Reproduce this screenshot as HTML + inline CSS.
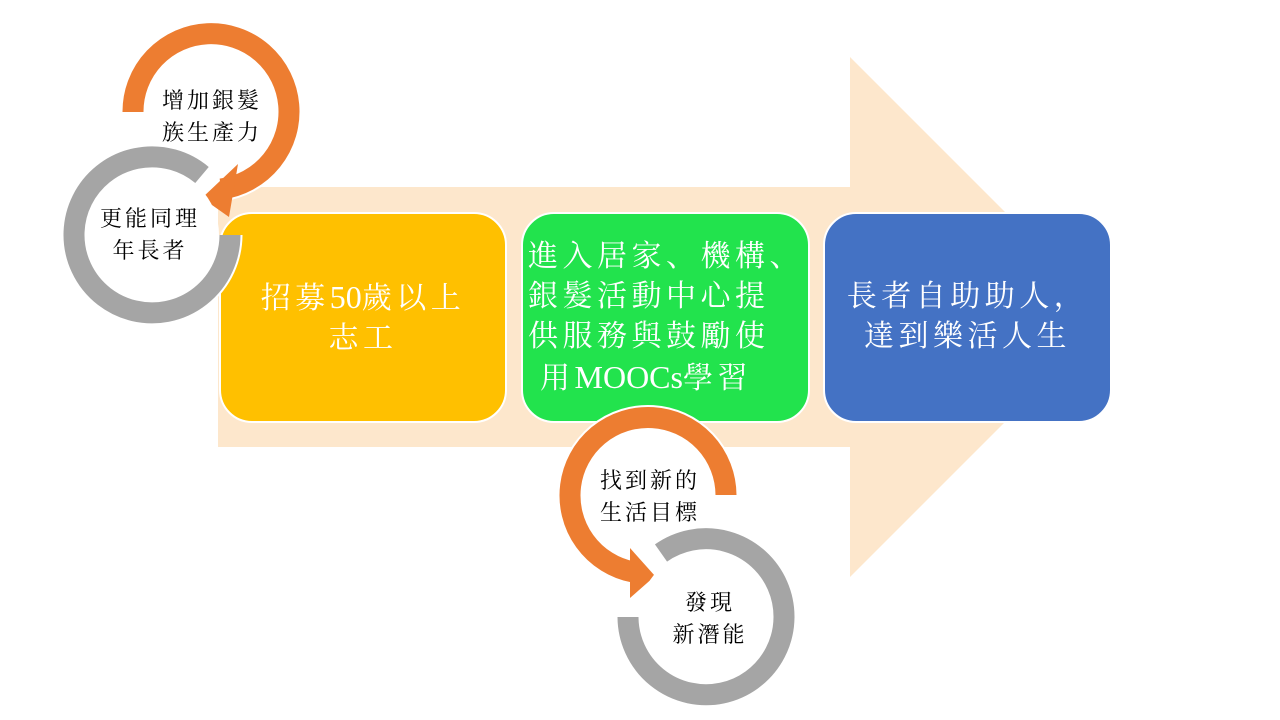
<!DOCTYPE html>
<html><head><meta charset="utf-8"><style>
body{margin:0;width:1280px;height:720px;background:#fff;overflow:hidden;position:relative;font-family:"Liberation Serif","Noto Serif CJK SC",serif;}
svg{position:absolute;left:0;top:0}
.t{position:absolute;white-space:nowrap;}
.box{color:#fff;font-size:30px;letter-spacing:4.5px;line-height:40px;}
.c{color:#000;font-size:22px;letter-spacing:3px;line-height:32px;text-align:center;}
.l{letter-spacing:0;font-size:32px;}
</style></head><body>
<svg width="1280" height="720">
<polygon points="218,187 850,187 850,57 1110,317 850,577 850,447 218,447" fill="#fde7cc"/>
<rect x="220" y="213" width="286" height="209" rx="32" fill="#ffc000" stroke="#fff" stroke-width="2"/>
<rect x="522" y="213" width="287" height="209" rx="32" fill="#22e34d" stroke="#fff" stroke-width="2"/>
<rect x="824" y="213" width="287" height="209" rx="32" fill="#4472c4" stroke="#fff" stroke-width="2"/>
<circle cx="211" cy="112" r="68" fill="#fff"/>
<path d="M133,112 A78,78 0 1 1 221,189" fill="none" stroke="#fff" stroke-width="25"/>
<path d="M133,112 A78,78 0 1 1 221,189" fill="none" stroke="#ed7d31" stroke-width="21"/>
<polygon points="238,164 202,198 229,217" fill="#ed7d31"/>
<circle cx="152" cy="235" r="67" fill="#fff"/>
<path d="M230,235 A78,78 0 1 1 202,175" fill="none" stroke="#fff" stroke-width="25"/>
<path d="M230,235 A78,78 0 1 1 202,175" fill="none" stroke="#a5a5a5" stroke-width="21"/>
<circle cx="648" cy="495" r="67" fill="#fff"/>
<path d="M726,495 A78,78 0 1 0 633,572" fill="none" stroke="#fff" stroke-width="25"/>
<path d="M726,495 A78,78 0 1 0 633,572" fill="none" stroke="#ed7d31" stroke-width="21"/>
<polygon points="630,548 630,598 655,576" fill="#ed7d31"/>
<circle cx="706" cy="617" r="67" fill="#fff"/>
<path d="M628,617 A78,78 0 1 0 661,553" fill="none" stroke="#fff" stroke-width="25"/>
<path d="M628,617 A78,78 0 1 0 661,553" fill="none" stroke="#a5a5a5" stroke-width="21"/>
</svg>
<div class="t c" style="left:152px;top:85px;width:120px;">增加銀髮<br>族生產力</div>
<div class="t c" style="left:90px;top:203px;width:120px;">更能同理<br>年長者</div>
<div class="t c" style="left:590px;top:465px;width:120px;">找到新的<br>生活目標</div>
<div class="t c" style="left:650px;top:587px;width:120px;">發現<br>新潛能</div>
<div class="t box" style="left:220px;top:277px;width:286px;text-align:center;">招募<span class="l">50</span>歲以上<br>志工</div>
<div class="t box" style="left:528px;top:237px;">進入居家、機構、<br>銀髮活動中心提<br>供服務與鼓勵使<br>&nbsp;用<span class="l">MOOCs</span>學習</div>
<div class="t box" style="left:824px;top:277px;width:287px;text-align:center;">長者自助助人，<br>達到樂活人生</div>
</body></html>
